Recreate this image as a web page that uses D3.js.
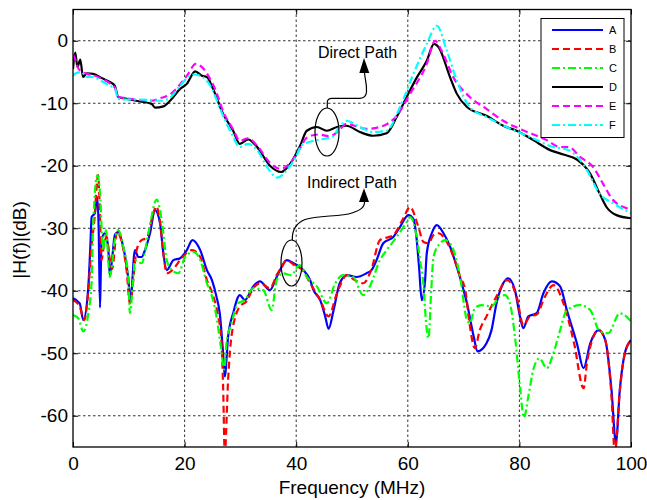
<!DOCTYPE html>
<html><head><meta charset="utf-8">
<script src="https://cdn.jsdelivr.net/npm/d3@7"></script>
<style>
body{margin:0;background:#fff;}
text{font-family:"Liberation Sans",Arial,Helvetica,sans-serif;}
</style></head>
<body><svg id="chart" width="647" height="500"></svg>
<script>
// ---------- data (Frequency MHz, |H(f)| dB) ----------
const xTicks = [0, 20, 40, 60, 80, 100];
const yTicks = [0, -10, -20, -30, -40, -50, -60];
const seriesNames = ["A", "B", "C", "D", "E", "F"];

const fA = [0,1.2,1.85,2.75,3.1,3.35,3.9,4.36,4.6,4.84,5.0,5.1,5.7,6.3,6.6,7.0,7.5,8.1,9.0,9.9,10.3,11.1,11.7,12.3,12.9,13.8,14.7,15.6,16.2,16.8,18,19.2,20.4,21.4,22.8,24,24.9,25.7,26.3,26.9,27.2,27.8,28.7,29.9,30.8,32.3,33.5,35.3,36.5,37.1,38.3,39.5,41.3,42.5,43.1,44.3,45.2,45.8,46.7,47.8,49.1,50.8,52.6,53.5,54.4,55.6,57.4,58.6,60.1,61.0,61.5,62.0,62.5,63.1,63.4,64.3,65.2,66.4,67.6,68.8,69.9,70.6,71.8,72.5,74.1,75,75.9,77.1,78,79.2,80.1,80.7,81.6,83.1,84.3,85.8,87.3,88.5,90.3,91.5,92.7,94.2,95.4,96.5,97.3,98,98.9,100];
const vA = [-41.2,-42.0,-44.7,-39.3,-33,-28.2,-27.6,-25.0,-30,-42.7,-36,-31.9,-30.8,-33.0,-37.5,-35,-31.1,-30.6,-33.0,-38,-41.5,-33.5,-34.6,-34.6,-33.5,-30.8,-27.1,-29.2,-34.1,-36.7,-35.1,-34.8,-33.5,-31.9,-33.5,-36.7,-38.3,-40.9,-43.6,-50,-53.7,-47.3,-43.6,-40.7,-41.5,-39.3,-38.5,-39.9,-37.8,-36.7,-35.1,-35.6,-36.7,-38.3,-39.9,-41.5,-44.1,-46.1,-43.1,-38.8,-37.5,-37.8,-37.2,-36.7,-35.1,-32.4,-31.4,-29.8,-27.9,-28.5,-31,-36,-41.5,-38.3,-34.0,-30.8,-29.5,-30.8,-33.0,-36.2,-39.6,-42.0,-47.3,-49.7,-48.4,-46.3,-42.0,-38.8,-38.0,-39.9,-44.1,-46.0,-44.1,-43.6,-40.4,-38.5,-39.3,-43.1,-48.4,-52.4,-48.4,-46.3,-47.9,-55.8,-64.3,-55.8,-50,-47.9];

const fB = [0,1.2,2.0,2.75,3.3,3.8,4.5,4.8,5.1,5.5,6.0,6.6,7.0,7.9,8.5,9.6,10.2,11.4,12.3,13.2,14.4,14.9,15.6,16.2,16.8,18,19.2,21.3,22.8,24,25.0,26,26.6,26.9,27.2,27.8,28.4,29.9,31.1,32.3,33.5,35.3,36.5,37.4,38.3,39.5,41.3,42.5,44.3,45.8,47.3,49.1,50.5,52,53.5,55,57.4,59.2,60.4,61.9,62.8,63.7,64.6,65.5,67,68.2,69.4,70.3,71.1,72,72.9,74.1,75.9,77.8,79.5,80.7,81.9,83.1,84.6,86.1,87.9,89.8,91.5,92.1,93.3,94.2,95.4,96.5,97.1,98,98.9,100];
const vB = [-41.5,-42.5,-44.7,-40,-33,-29,-21.5,-27,-35.1,-33,-31.4,-35.0,-36.5,-30.6,-31.5,-36.7,-42,-33.5,-31.9,-31.6,-27.6,-26.5,-29,-34,-37.2,-36.5,-35.1,-33.5,-34.6,-38.3,-40.5,-44,-48,-55.3,-66,-54.2,-47.3,-42.5,-41.7,-39.6,-38.8,-39.6,-37.5,-36.2,-35.1,-35.8,-36.9,-38.8,-41.5,-44.1,-40.4,-37.5,-38.3,-38.8,-36.5,-31.9,-31.1,-28.4,-26.6,-29.8,-32.2,-32.4,-31.1,-30.8,-32.2,-34.6,-37.8,-39.9,-45.5,-49.2,-46.3,-44.1,-40.9,-38.3,-40.9,-45.5,-44.1,-43.8,-40.9,-39.1,-42,-48.4,-55.6,-51.6,-47.3,-46.3,-48,-56.9,-66,-56,-50,-48];

const fC = [0,0.95,1.85,2.75,3.35,3.6,4.36,4.84,5.4,5.9,6.6,7.5,8.1,9.0,9.9,10.2,10.8,11.1,12.3,13.5,15,15.9,16.8,17.7,18.9,20.1,21.6,22.8,24,24.9,25.7,26.5,27.1,27.5,28.4,29.6,30.8,32.3,34.1,35.6,36.5,37.6,39.1,40.6,41.9,43.7,45.5,47,48.4,50.2,52,53.2,55,56.2,58,59.8,60.4,61.6,62.2,62.8,63.1,63.7,64.2,64.6,65.8,66.7,68.2,69.4,70.6,71.1,72,73.2,75,76.5,77.4,78.3,79.2,80.1,80.8,81.6,82.5,83.6,84.9,86.1,87.3,88.5,90.9,92.7,94.4,95.9,98,100];
const vC = [-43.9,-44.4,-46.5,-43.6,-38.3,-29.8,-21.5,-24.4,-33.5,-30.3,-37.8,-31.9,-30.3,-32.9,-37.8,-43.6,-38,-35.1,-35.6,-30.8,-25.4,-28.7,-35.1,-36.7,-37.2,-34.6,-33.8,-35.1,-38.8,-40.9,-44.1,-49,-52.6,-48.4,-45.2,-42,-41.5,-39.6,-39.9,-43.1,-38.3,-37.2,-37.5,-35.9,-37.8,-39.3,-42,-38.8,-37.5,-37.8,-40.7,-39.3,-35.1,-33.5,-31.4,-29,-28.2,-31.4,-35.1,-39,-43.1,-47.6,-40,-34.6,-32.4,-31.9,-33.5,-38,-44.7,-45.2,-42.8,-42.3,-42.5,-40.9,-40.7,-42,-47.3,-55.3,-60.3,-56.9,-52.6,-50.8,-52.4,-50,-46.3,-43.1,-42.3,-43.1,-46.5,-46.8,-43.6,-44.9];

const fD = [0,0.4,0.8,1.3,1.8,2.5,3.6,5,6.6,7.5,8.1,9.6,12,14.1,14.7,16.2,17.4,19.2,20.4,21.9,23.1,24,25.1,26.9,28.7,29.9,31.4,32.9,35.3,37.3,39,40.7,41.9,43.7,45.5,47.3,49,51.4,53.8,56.2,58,59.8,61.6,63.4,64.7,65.5,67.6,68.8,70.6,74.1,77.1,79.5,82.5,85.5,87.9,90.3,92.1,92.7,94.4,95.6,97.4,100];
const vD = [-4.5,-1.9,-4.2,-3.0,-5.8,-5.2,-5.3,-5.9,-6.6,-7.2,-9.0,-9.3,-9.7,-10.1,-10.7,-10.5,-9.6,-7.7,-6.9,-4.9,-5.6,-5.8,-7.7,-11.7,-14.4,-16.5,-15.8,-16.9,-20.0,-21.0,-19.6,-16.8,-14.4,-13.8,-14.4,-13.8,-13.6,-14.6,-15.2,-14.8,-12.2,-9.0,-5.9,-3.2,-0.5,-1.0,-5.9,-8.5,-10.6,-12.0,-13.6,-14.4,-15.9,-17.5,-18.2,-19.0,-20.5,-21.3,-24.5,-26.6,-27.9,-28.4];

const fE = [0,0.5,1,2.5,3.6,5,6.6,7.5,8.1,9.6,12,14,15.6,17.4,19.2,20.5,22,23.5,24.5,25.5,27,28.7,29.9,31.4,33,35.3,37.2,39,40.7,41.9,44,46,47.5,49,50.5,52.6,55,58,60.4,63.4,64.9,66,68.2,71.1,74.1,77.1,80.1,84.9,87.3,88.8,90.9,93.2,95,96.8,100];
const vE = [-2.2,-3.2,-4.5,-5.3,-5.5,-6.0,-6.8,-7.5,-9.0,-9.2,-9.5,-9.6,-9.2,-8.6,-7.0,-5.5,-3.7,-4.6,-6.0,-7.8,-11.5,-14.2,-16.0,-15.6,-16.8,-19.5,-20.5,-19.5,-17.2,-15.5,-15.0,-15.3,-14.5,-13.3,-13.6,-14.1,-13.8,-12.0,-8.5,-3.7,0,-1.5,-5.9,-9.0,-10.9,-12.8,-14.1,-15.9,-17.0,-17.0,-18.6,-20.2,-22.9,-25.5,-27.0];

const fF = [0,0.5,1.5,2.45,3.6,5,6.6,7.5,8.1,9.6,12,15.6,17.4,19.2,21.5,22.8,24.4,26.9,28.5,29.9,31.4,33,35,36.6,38.5,40,41,43.7,46.4,48,49,51.4,53.8,56.2,58.6,61,63.4,65.2,67,68.8,71.1,74.1,77.7,81.9,86.1,88.5,90.9,92.1,94.4,96.8,100];
const vF = [-5.6,-5.2,-5.0,-5.8,-5.8,-6.4,-7.2,-7.6,-9.3,-9.4,-9.4,-9.6,-9.1,-7.2,-5.4,-5.6,-6.9,-12.0,-15.0,-17.0,-16.5,-17.5,-20.5,-21.9,-20.5,-18.5,-16.7,-15.9,-15.4,-13.5,-12.8,-13.8,-14.6,-14.4,-10.6,-5.3,-0.5,2.4,-1.6,-6.4,-10.6,-12.2,-13.8,-15.4,-17.0,-17.4,-19.1,-20.7,-24.5,-26.0,-27.6];

// ---------- chart ----------
const W = 647, H = 500;
const m = {left: 73, top: 9.5, right: 16, bottom: 53};
const iw = W - m.left - m.right, ih = H - m.top - m.bottom;

const svg = d3.select("#chart");
const g = svg.append("g").attr("transform", `translate(${m.left},${m.top})`);

const x = d3.scaleLinear().domain([0, 100]).range([0, iw]);
const y = d3.scaleLinear().domain([-65, 5]).range([ih, 0]);

// grid
g.append("g").selectAll("line").data(xTicks.slice(1, -1)).join("line")
  .attr("x1", d => x(d)).attr("x2", d => x(d)).attr("y1", 0).attr("y2", ih)
  .attr("stroke", "#333").attr("stroke-width", 1).attr("stroke-dasharray", "2.5,2.5");
g.append("g").selectAll("line").data(yTicks).join("line")
  .attr("y1", d => y(d)).attr("y2", d => y(d)).attr("x1", 0).attr("x2", iw)
  .attr("stroke", "#333").attr("stroke-width", 1).attr("stroke-dasharray", "2.5,2.5");

// axes
const fmt = d => String(d);
const ax = g.append("g").attr("transform", `translate(0,${ih})`)
  .call(d3.axisBottom(x).tickValues(xTicks).tickFormat(fmt).tickSizeInner(-5).tickSizeOuter(0).tickPadding(10));
const ay = g.append("g")
  .call(d3.axisLeft(y).tickValues(yTicks).tickFormat(fmt).tickSizeInner(-5).tickSizeOuter(0).tickPadding(5));
const at = g.append("g")
  .call(d3.axisTop(x).tickValues(xTicks).tickFormat("").tickSizeInner(-5).tickSizeOuter(0));
const ar = g.append("g").attr("transform", `translate(${iw},0)`)
  .call(d3.axisRight(y).tickValues(yTicks).tickFormat("").tickSizeInner(-5).tickSizeOuter(0));
[ax, ay, at, ar].forEach(a => {
  a.select(".domain").remove();
  a.selectAll("text").attr("font-size", 19).attr("fill", "#000")
    .attr("font-family", '"Liberation Sans",Arial,sans-serif');
  a.selectAll("line").attr("stroke", "#000");
});

// clip
svg.append("defs").append("clipPath").attr("id", "clip")
  .append("rect").attr("width", iw).attr("height", ih);

const series = [
  {name: "A", f: fA, v: vA, color: "#0000ff", dash: null},
  {name: "B", f: fB, v: vB, color: "#ff0000", dash: "7,4"},
  {name: "C", f: fC, v: vC, color: "#00ff00", dash: "8,3,2,3"},
  {name: "D", f: fD, v: vD, color: "#000000", dash: null},
  {name: "E", f: fE, v: vE, color: "#ff00ff", dash: "7,4"},
  {name: "F", f: fF, v: vF, color: "#00ffff", dash: "8,3,2,3"}
];

const line = d3.line().x(d => x(d[0])).y(d => y(d[1])).curve(d3.curveMonotoneX);
const plot = g.append("g").attr("clip-path", "url(#clip)");
series.forEach(s => {
  plot.append("path")
    .datum(s.f.map((f, i) => [f, s.v[i]]))
    .attr("d", line)
    .attr("fill", "none")
    .attr("stroke", s.color)
    .attr("stroke-width", 2.2)
    .attr("stroke-linejoin", "round")
    .attr("stroke-dasharray", s.dash);
});

// frame
g.append("rect").attr("width", iw).attr("height", ih)
  .attr("fill", "none").attr("stroke", "#000").attr("stroke-width", 1.3);

// annotations (page coordinates)
const ann = svg.append("g").attr("stroke", "#000").attr("fill", "none").attr("stroke-width", 1.2);
ann.append("ellipse").attr("cx", 327).attr("cy", 132).attr("rx", 12).attr("ry", 24);
ann.append("path").attr("d", "M327.3,108 L327.3,102 Q327.5,98.5 332,98.3 L360,98.3 Q366,98 366.5,92 Q366.8,86 365.5,80 L364.3,72");
svg.append("path").attr("d", "M364,58 L359.3,73 L369.3,73 Z").attr("fill", "#000");
svg.append("text").attr("x", 318).attr("y", 58).attr("font-size", 16).text("Direct Path");

ann.append("ellipse").attr("cx", 291.5).attr("cy", 263).attr("rx", 10.5).attr("ry", 23);
ann.append("path").attr("d", "M292.3,240 C292,232 294,224 305,219.5 C318,215 340,217 352,213 C361,210 365,207 364.5,201");
svg.append("path").attr("d", "M364,188.3 L359,202 L369,202 Z").attr("fill", "#000");
svg.append("text").attr("x", 307).attr("y", 188).attr("font-size", 16).text("Indirect Path");

// axis labels
svg.append("text").attr("x", m.left + iw / 2).attr("y", 494).attr("text-anchor", "middle")
  .attr("font-size", 19).text("Frequency (MHz)");
svg.append("text").attr("transform", "translate(26,240) rotate(-90)").attr("text-anchor", "middle")
  .attr("font-size", 19).text("|H(f)|(dB)");

// legend
const lg = svg.append("g").attr("transform", "translate(541,18.5)");
lg.append("rect").attr("width", 83).attr("height", 119).attr("fill", "#fff").attr("stroke", "#000").attr("stroke-width", 1);
series.forEach((s, i) => {
  const yy = 11.5 + i * 19;
  lg.append("line").attr("x1", 11).attr("x2", 62).attr("y1", yy).attr("y2", yy)
    .attr("stroke", s.color).attr("stroke-width", 2.2).attr("stroke-dasharray", s.dash);
  lg.append("text").attr("x", 68).attr("y", yy + 4).attr("font-size", 11).text(s.name);
});
</script></body></html>
